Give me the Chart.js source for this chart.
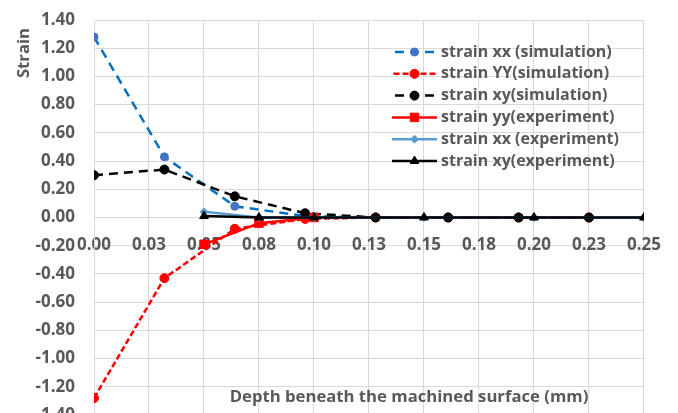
<!DOCTYPE html>
<html>
<head>
<meta charset="utf-8">
<script src="https://cdn.jsdelivr.net/npm/chart.js@4/dist/chart.umd.min.js"></script>
<style>
  html, body { margin: 0; padding: 0; background: #fff; overflow: hidden; }
  canvas { display: block; }
</style>
</head>
<body>
<canvas id="chart" width="678" height="430"></canvas>
<script>
// simulation nodes (depth in mm)
const simDepth = [0, 0.032, 0.064, 0.096, 0.128, 0.161, 0.193, 0.225]
const simXX = [1.28, 0.43, 0.08, 0.01, 0, 0, 0, 0]
const simYY = [-1.28, -0.43, -0.08, -0.01, 0, 0, 0, 0]
const simXY = [0.30, 0.34, 0.15, 0.03, 0, 0, 0, 0]

// experiment
const expDepthYY = [0.05, 0.075, 0.10]
const expYY = [-0.19, -0.04, 0.00]
const expDepth = [0.05, 0.075, 0.10, 0.15, 0.20, 0.25]
const expXX = [0.04, 0.00, 0.00, 0.00, 0.00, 0.00]
const expXY = [0.01, 0.00, 0.00, 0.00, 0.00, 0.00]

const xTickLabels = ['0.00', '0.03', '0.05', '0.08', '0.10', '0.13', '0.15', '0.18', '0.20', '0.23', '0.25']
const yTickLabels = ['-1.40', '-1.20', '-1.00', '-0.80', '-0.60', '-0.40', '-0.20', '0.00',
  '0.20', '0.40', '0.60', '0.80', '1.00', '1.20', '1.40']

const xTitle = 'Depth beneath the machined surface (mm)'
const yTitle = 'Strain'

const textColor = '#595959'
const fontFamily = "'Open Sans', 'Liberation Sans', sans-serif"

const toPoints = (xs, ys) => xs.map((x, i) => ({ x: x, y: ys[i] }))

const datasets = [
  {
    label: 'strain xx (simulation)',
    data: toPoints(simDepth, simXX),
    borderColor: '#0070C0', backgroundColor: '#4472C4',
    pointBorderColor: '#4472C4',
    borderDash: [9, 6], pointStyle: 'circle', pointRadius: 4
  },
  {
    label: 'strain YY(simulation)',
    data: toPoints(simDepth, simYY),
    borderColor: '#FF0000', backgroundColor: '#FF0000',
    borderDash: [6, 3], pointStyle: 'circle', pointRadius: 4.5
  },
  {
    label: 'strain xy(simulation)',
    data: toPoints(simDepth, simXY),
    borderColor: '#000000', backgroundColor: '#000000',
    borderDash: [9, 6], pointStyle: 'circle', pointRadius: 4.5
  },
  {
    label: 'strain yy(experiment)',
    data: toPoints(expDepthYY, expYY),
    borderColor: '#FF0000', backgroundColor: '#FF0000',
    pointStyle: 'rect', pointRadius: 6
  },
  {
    label: 'strain xx (experiment)',
    data: toPoints(expDepth, expXX),
    borderColor: '#5B9BD5', backgroundColor: '#5B9BD5',
    pointStyle: 'rectRot', pointRadius: 4
  },
  {
    label: 'strain xy(experiment)',
    data: toPoints(expDepth, expXY),
    borderColor: '#000000', backgroundColor: '#000000',
    pointStyle: 'triangle', pointRadius: 5
  }
]

datasets.forEach((ds, i) => {
  ds.showLine = true
  ds.fill = false
  ds.borderWidth = 2.5
  ds.pointBorderWidth = 1
  ds.pointBorderColor = ds.pointBorderColor || ds.backgroundColor
  ds.order = datasets.length - i   // later series drawn on top, like Excel
})

// legend drawn inside the plot + the two axis titles
const excelBits = {
  id: 'excelBits',
  afterDraw(chart) {
    const ctx = chart.ctx
    const opts = chart.options.plugins.excelBits
    const w = opts.sampleWidth
    ctx.save()
    chart.data.datasets.forEach((ds, i) => {
      const y = opts.legendTop + i * opts.legendRow
      const x0 = opts.legendLeft
      const dash = ds.borderDash || []
      ctx.strokeStyle = ds.borderColor
      ctx.lineWidth = ds.borderWidth
      ctx.setLineDash(dash)
      if (dash.length) {
        // centre one dash under the marker, like Excel's legend sample
        const period = dash[0] + dash[1]
        ctx.lineDashOffset = period - ((w / 2 - dash[0] / 2) % period)
      }
      ctx.beginPath()
      ctx.moveTo(x0, y)
      ctx.lineTo(x0 + w, y)
      ctx.stroke()
      ctx.setLineDash([])
      ctx.lineDashOffset = 0
      ctx.fillStyle = ds.backgroundColor
      ctx.strokeStyle = ds.pointBorderColor
      ctx.lineWidth = 1
      Chart.helpers.drawPoint(ctx, {
        pointStyle: ds.pointStyle, radius: ds.pointRadius, rotation: 0, borderWidth: 1
      }, x0 + w / 2, y)
      ctx.fillStyle = textColor
      ctx.font = 'bold 16px ' + fontFamily
      ctx.textAlign = 'left'
      ctx.textBaseline = 'middle'
      ctx.fillText(ds.label, x0 + w + 4, y)
    })

    ctx.fillStyle = textColor
    ctx.font = 'bold 16.7px ' + fontFamily
    ctx.textAlign = 'center'
    ctx.textBaseline = 'middle'
    ctx.fillText(xTitle, opts.xTitleX, opts.xTitleY)

    ctx.translate(opts.yTitleX, opts.yTitleY)
    ctx.rotate(-Math.PI / 2)
    ctx.fillText(yTitle, 0, 0)
    ctx.restore()
  }
}

new Chart(document.getElementById('chart').getContext('2d'), {
  type: 'scatter',
  data: { datasets: datasets },
  plugins: [excelBits],
  options: {
    responsive: false,
    animation: false,
    layout: { padding: { top: 20, right: 33, bottom: 15, left: 0 } },
    plugins: {
      legend: { display: false },
      tooltip: { enabled: false },
      excelBits: {
        legendLeft: 392, legendTop: 52, legendRow: 21.8, sampleWidth: 45,
        xTitleX: 409, xTitleY: 397, yTitleX: 24, yTitleY: 53
      }
    },
    scales: {
      x: {
        type: 'linear',
        position: { y: 0 },
        min: 0, max: 0.25,
        grid: { color: '#d9d9d9', drawTicks: false },
        border: { color: '#d9d9d9' },
        ticks: {
          stepSize: 0.025,
          padding: 17,
          color: textColor,
          font: { family: fontFamily, size: 17, weight: 'bold' },
          maxRotation: 0,
          autoSkip: false,
          callback: (v) => xTickLabels[Math.round(v / 0.025)]
        }
      },
      y: {
        type: 'linear',
        min: -1.4, max: 1.4,
        grid: { color: '#d9d9d9', drawTicks: false },
        border: { color: '#d9d9d9' },
        afterFit: (axis) => {
          axis.width = 94
          axis.paddingTop = 0
          axis.paddingBottom = 0
        },
        ticks: {
          stepSize: 0.2,
          padding: 19,
          color: textColor,
          font: { family: fontFamily, size: 17, weight: 'bold' },
          callback: (v) => yTickLabels[Math.round((v + 1.4) / 0.2)]
        }
      }
    }
  }
})
</script>
</body>
</html>
